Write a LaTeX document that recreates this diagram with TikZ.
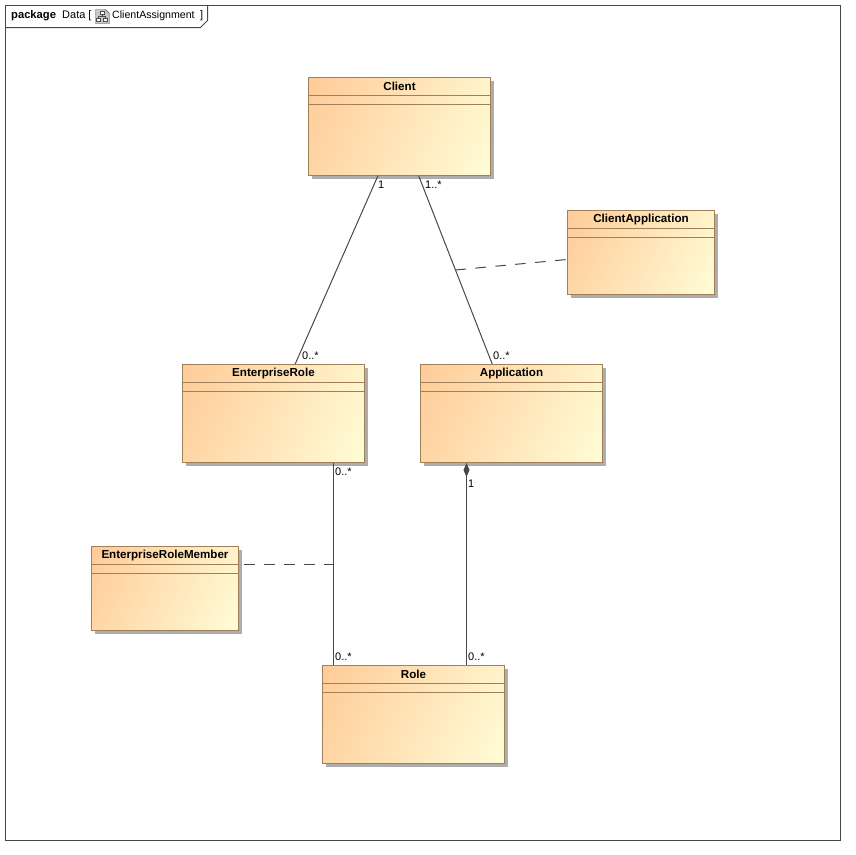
\documentclass[tikz,border=0pt]{standalone}
\usepackage{fontspec}
\setmainfont{Liberation Sans}
\usepackage{xcolor}
\usetikzlibrary{arrows.meta, calc, shadows}
\definecolor{classedge}{HTML}{A08058}
\definecolor{classdark}{HTML}{FFCC99}
\definecolor{classlight}{HTML}{FFFCD6}
\definecolor{wire}{HTML}{484848}
\pgfdeclarehorizontalshading{classfade}{100bp}{color(0bp)=(classdark); color(18bp)=(classdark); color(82bp)=(classlight); color(100bp)=(classlight)}

\begin{document}
\begin{tikzpicture}[x=1pt, y=-1pt,
    classbox/.style={draw=classedge, line width=1pt, inner sep=0pt, shade, shading=classfade,
        shading angle=-25, drop shadow={shadow xshift=3pt, shadow yshift=-3pt, fill=black!32, opacity=1}},
    classtitle/.style={font=\fontsize{11.6}{13}\selectfont\bfseries, inner sep=0pt},
    multlabel/.style={font=\fontsize{11}{12}\selectfont, inner sep=0pt, anchor=west},
    tablabel/.style={font=\fontsize{11}{13}\selectfont, inner sep=0pt, anchor=west},
    assoc/.style={draw=wire, line width=1pt},
    dashlink/.style={draw=wire, line width=1pt, dash pattern=on 10.5pt off 9.5pt}]
\useasboundingbox (0,0) rectangle (855,855);
% Frame and its tab
\node (frame) [draw=wire, line width=1pt, minimum width=835pt, minimum height=835pt, inner sep=0pt] at (423,423) {};
\draw[wire, line width=1pt] (5,27.5) -- (200.5,27.5) -- (207.5,20.5) -- (207.5,5);
\node (kind) [tablabel, font=\fontsize{11.2}{13}\selectfont\bfseries] at (11,16) {package};
\node (owner) [tablabel] at (62,16) {Data [};
\node (title) [tablabel, font=\fontsize{10.6}{13}\selectfont] at (112,16) {ClientAssignment};
\node (close) [tablabel] at (200,16) {]};
% Diagram icon
\draw[black!70, fill=black!22] (95.5,9.5) -- (105.5,9.5) -- (109.5,13.5) -- (109.5,23.5) -- (95.5,23.5) -- cycle;
\foreach \bx/\by in {102/12.5,98.5/20,105.5/20} {
    \draw[black!70, fill=white] (\bx-2,\by-1.5) rectangle (\bx+2,\by+1.5);
}
\draw[black!70] (102,14) -- (102,16.5) (98.5,18.5) -- (98.5,16.5) -- (105.5,16.5) -- (105.5,18.5);
% Classes
\foreach \name/\cx/\cy/\w/\h in {Client/399.5/126.5/182/98, ClientApplication/641/252.5/147/84,
        EnterpriseRole/273.5/413.5/182/98, Application/511.5/413.5/182/98,
        EnterpriseRoleMember/165/588.5/147/84, Role/413.5/714.5/182/98} {
    \node (\name) [classbox, minimum width=\w pt, minimum height=\h pt] at (\cx,\cy) {};
    \node (\name-title) [classtitle] at ($(\name.north)+(0,9.5)$) {\name};
    \draw[classedge, line width=1pt] ($(\name.north west)+(0,18)$) -- ($(\name.north east)+(0,18)$);
    \draw[classedge, line width=1pt] ($(\name.north west)+(0,27)$) -- ($(\name.north east)+(0,27)$);
}
% Associations
\draw[assoc] (Client) -- (EnterpriseRole);
\draw[assoc] (Client) -- (Application);
\coordinate (erTop) at ($(EnterpriseRole.south east)+(-31.5,0)$);
\coordinate (erBottom) at ($(Role.north west)+(11.5,0)$);
\draw[assoc] (erTop) -- (erBottom);
\coordinate (appTop) at ($(Application.south west)+(46.5,0)$);
\coordinate (appBottom) at ($(Role.north west)+(144.5,0)$);
\draw[assoc, {Diamond[length=14pt, width=6pt]}-] (appTop) -- (appBottom);
% Association class links
\coordinate (appMid) at ($(Client)!0.5!(Application)$);
\draw[dashlink] (appMid) -- (ClientApplication);
\coordinate (roleMid) at ($(erTop)!0.5!(erBottom)$);
\draw[dashlink, dash phase=15pt] (EnterpriseRoleMember.east |- roleMid) -- (roleMid);
% Multiplicities
\foreach \id/\lx/\ly/\txt in {a/378/185/1, b/425/185/1..*, c/302/356/0..*, d/493/356/0..*,
        e/335/472/0..*, f/468/484/1, g/335/657/0..*, h/468/657/0..*} {
    \node (mult-\id) [multlabel] at (\lx,\ly) {\txt};
}
\end{tikzpicture}
\end{document}
